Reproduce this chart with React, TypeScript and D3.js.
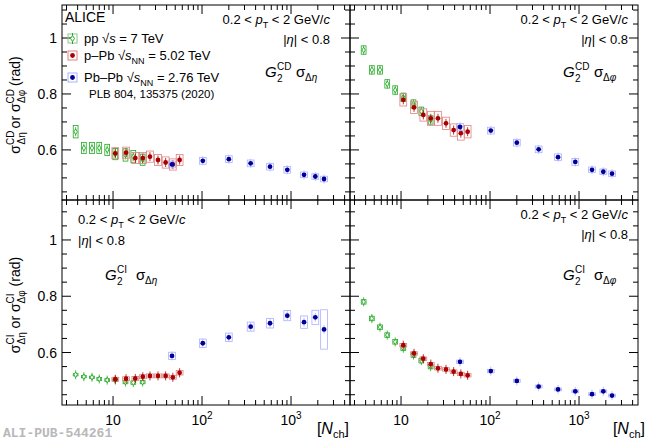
import React from "react";
import * as d3 from "d3";

const nPP = [3.8, 4.7, 5.8, 7.0, 8.6, 10.6, 13.8, 16.9, 21.5];
const nPPb = [10.6, 14, 17.8, 21.6, 26, 32, 39, 47, 56];
const nPbPb = [46, 102, 200, 352, 581, 908, 1400, 1875, 2350];

// top-left: CD sigma_deta
const cdEtaPP = [0.665, 0.607, 0.607, 0.607, 0.6, 0.585, 0.582, 0.576, 0.565];
const cdEtaPPb = [0.588, 0.59, 0.571, 0.571, 0.576, 0.564, 0.555, 0.548, 0.564];
const cdEtaPbPb = [0.548, 0.561, 0.567, 0.552, 0.54, 0.529, 0.511, 0.505, 0.496];
// top-right: CD sigma_dphi
const cdPhiPP = [0.957, 0.886, 0.886, 0.836, 0.814, 0.788, 0.764, 0.738, 0.707];
const cdPhiPPb = [0.779, 0.752, 0.725, 0.713, 0.713, 0.695, 0.671, 0.66, 0.665];
const cdPhiPbPb = [0.682, 0.669, 0.626, 0.602, 0.574, 0.557, 0.529, 0.522, 0.515];
// bottom-left: CI sigma_deta
const ciEtaPP = [0.521, 0.514, 0.512, 0.506, 0.502, 0.502, 0.495, 0.493, 0.495];
const ciEtaPPb = [0.505, 0.507, 0.508, 0.514, 0.517, 0.517, 0.517, 0.512, 0.528];
const ciEtaPbPb = [0.588, 0.633, 0.654, 0.692, 0.704, 0.731, 0.708, 0.725, 0.682];
// bottom-right: CI sigma_dphi
const ciPhiPP = [0.78, 0.721, 0.69, 0.662, 0.638, 0.615, 0.591, 0.571, 0.55];
const ciPhiPPb = [0.626, 0.597, 0.578, 0.559, 0.544, 0.54, 0.532, 0.524, 0.519];
const ciPhiPbPb = [0.567, 0.534, 0.499, 0.479, 0.469, 0.462, 0.452, 0.462, 0.447];

// systematic half-heights
const sysCdEta = { pp: [0.022, 0.02, 0.02, 0.02, 0.02, 0.02, 0.022, 0.022, 0.02], ppb: [0.02, 0.02, 0.02, 0.02, 0.02, 0.02, 0.02, 0.02, 0.02], pbpb: [0.012, 0.012, 0.012, 0.012, 0.012, 0.012, 0.01, 0.01, 0.01] };
const sysCdPhi = { pp: [0.015, 0.015, 0.015, 0.015, 0.015, 0.015, 0.015, 0.015, 0.015], ppb: [0.022, 0.022, 0.022, 0.025, 0.025, 0.022, 0.022, 0.025, 0.022], pbpb: [0.012, 0.012, 0.012, 0.012, 0.012, 0.012, 0.01, 0.01, 0.01] };
const sysCiEta = { pp: [0.004, 0.004, 0.004, 0.005, 0.005, 0.005, 0.006, 0.006, 0.006], ppb: [0.007, 0.007, 0.007, 0.007, 0.007, 0.007, 0.007, 0.007, 0.008], pbpb: [0.013, 0.015, 0.015, 0.016, 0.017, 0.018, 0.022, 0.025, 0.07] };
const sysCiPhi = { pp: [0.008, 0.008, 0.008, 0.008, 0.008, 0.008, 0.008, 0.008, 0.008], ppb: [0.006, 0.006, 0.006, 0.006, 0.006, 0.006, 0.006, 0.006, 0.006], pbpb: [0.006, 0.006, 0.005, 0.005, 0.005, 0.005, 0.005, 0.005, 0.005] };

const yTicks = [0.6, 0.8, 1.0];
const xTickLabels = ["10", "10", "10"];

const FONT = "Liberation Sans, Arial, sans-serif";
const GREEN = "#22aa22";
const RED = "#aa0000";
const REDBOX = "#e08080";
const BLUE = "#000099";
const BLUEBOX = "#aab0ff";

type P = { x0: number; x1: number; y0: number; y1: number; dom: [number, number] };

function Panel({ p, pp, ppb, pbpb, sys, showYLabels, showXLabels }: any) {
  const x = d3.scaleLog().domain([2.67, 4600]).range([p.x0, p.x1]);
  const y = d3.scaleLinear().domain(p.dom).range([p.y1, p.y0]);
  const minorX: number[] = [];
  for (let e = 0; e <= 3; e++) for (let m = 1; m <= 9; m++) { const v = m * Math.pow(10, e); if (v >= 2.67 && v <= 4600) minorX.push(v); }
  const minorY: number[] = [];
  for (let v = 0.45; v <= 1.15; v += 0.05) { const vv = Math.round(v * 100) / 100; if (vv >= p.dom[0] && vv <= p.dom[1]) minorY.push(vv); }
  const series = (ns: number[], vals: number[], s: number[], kind: string) =>
    ns.map((n, i) => {
      const cx = x(n), cy = y(vals[i]);
      const hw = kind === "pp" ? 2.4 : 3.4;
      const col = kind === "pp" ? GREEN : kind === "ppb" ? REDBOX : BLUEBOX;
      const stat = kind === "pp" ? GREEN : kind === "ppb" ? RED : BLUEBOX;
      return (
        <g key={kind + i}>
          <rect x={cx - hw} y={y(vals[i] + s[i])} width={hw * 2} height={y(vals[i] - s[i]) - y(vals[i] + s[i])} fill="none" stroke={col} strokeWidth={0.8} />
          <line x1={cx} x2={cx} y1={cy - 4.5} y2={cy + 4.5} stroke={stat} strokeWidth={0.8} />
          {kind === "pp" ? (
            <path d={`M${cx},${cy - 2.8}L${cx + 1.7},${cy}L${cx},${cy + 2.8}L${cx - 1.7},${cy}Z`} fill="white" stroke={GREEN} strokeWidth={0.9} />
          ) : (
            <circle cx={cx} cy={cy} r={2.4} fill={kind === "ppb" ? RED : BLUE} />
          )}
        </g>
      );
    });
  return (
    <g>
      {series(nPP, pp, sys.pp, "pp")}
      {series(nPPb, ppb, sys.ppb, "ppb")}
      {series(nPbPb, pbpb, sys.pbpb, "pbpb")}
      <rect x={p.x0} y={p.y0} width={p.x1 - p.x0} height={p.y1 - p.y0} fill="none" stroke="black" strokeWidth={1} />
      {minorX.map((v) => {
        const major = [10, 100, 1000].includes(v);
        const L = major ? 9 : 5;
        return (
          <g key={"mx" + v}>
            <line x1={x(v)} x2={x(v)} y1={p.y1} y2={p.y1 - L} stroke="black" />
            <line x1={x(v)} x2={x(v)} y1={p.y0} y2={p.y0 + L} stroke="black" />
          </g>
        );
      })}
      {minorY.map((v) => {
        const major = yTicks.some((t) => Math.abs(t - v) < 1e-6);
        const L = major ? 9 : 5;
        return (
          <g key={"my" + v}>
            <line x1={p.x0} x2={p.x0 + L} y1={y(v)} y2={y(v)} stroke="black" />
            <line x1={p.x1} x2={p.x1 - L} y1={y(v)} y2={y(v)} stroke="black" />
          </g>
        );
      })}
      {showYLabels && yTicks.map((t) => (
        <text key={"yl" + t} x={p.x0 - 5} y={y(t) + 5} textAnchor="end" fontSize={14}>{t === 1 ? "1" : t.toFixed(1)}</text>
      ))}
      {showXLabels && [10, 100, 1000].map((t, i) => (
        <text key={"xl" + t} x={x(t)} y={p.y1 + 20} textAnchor="middle" fontSize={14}>
          {xTickLabels[i]}{i > 0 && <tspan dy={-6} fontSize={10}>{i + 1}</tspan>}
        </text>
      ))}
    </g>
  );
}

function Label({ xr, y0 }: any) {
  return (
    <g fontSize={13}>
      <text x={xr} y={y0 + 17} textAnchor="end">0.2 &lt; <tspan fontStyle="italic">p</tspan><tspan fontSize={9} dy={4}>T</tspan><tspan dy={-4}> &lt; 2 GeV/</tspan><tspan fontStyle="italic">c</tspan></text>
      <text x={xr} y={y0 + 37} textAnchor="end">|<tspan fontStyle="italic">η</tspan>| &lt; 0.8</text>
    </g>
  );
}

function GLabel({ x0, y0, sup, sub }: any) {
  return (
    <g>
      <text x={x0} y={y0} fontSize={15} fontStyle="italic">G</text>
      <text x={x0 + 12} y={y0 - 7} fontSize={10}>{sup}</text>
      <text x={x0 + 12} y={y0 + 5} fontSize={10}>2</text>
      <text x={x0 + 31} y={y0} fontSize={15}>σ</text>
      <text x={x0 + 40} y={y0 + 4} fontSize={10}>Δ<tspan fontStyle="italic">{sub}</tspan></text>
    </g>
  );
}

export default function App() {
  const top: [number, number] = [0.421, 1.118];
  const bot: [number, number] = [0.4135, 1.142];
  const pTL: P = { x0: 62, x1: 350, y0: 5, y1: 200, dom: top };
  const pTR: P = { x0: 350, x1: 638, y0: 5, y1: 200, dom: top };
  const pBL: P = { x0: 62, x1: 350, y0: 200, y1: 405, dom: bot };
  const pBR: P = { x0: 350, x1: 638, y0: 200, y1: 405, dom: bot };
  return (
    <svg width={650} height={440} style={{ position: "absolute", left: 0, top: 0, background: "white" }} fontFamily={FONT}>
      <rect width={650} height={440} fill="white" />
      <Panel p={pTL} pp={cdEtaPP} ppb={cdEtaPPb} pbpb={cdEtaPbPb} sys={sysCdEta} showYLabels showXLabels={false} />
      <Panel p={pTR} pp={cdPhiPP} ppb={cdPhiPPb} pbpb={cdPhiPbPb} sys={sysCdPhi} showYLabels={false} showXLabels={false} />
      <Panel p={pBL} pp={ciEtaPP} ppb={ciEtaPPb} pbpb={ciEtaPbPb} sys={sysCiEta} showYLabels showXLabels />
      <Panel p={pBR} pp={ciPhiPP} ppb={ciPhiPPb} pbpb={ciPhiPbPb} sys={sysCiPhi} showYLabels={false} showXLabels />

      <Label xr={330} y0={7} />
      <Label xr={628} y0={7} />
      <text x={78} y={224} fontSize={13}>0.2 &lt; <tspan fontStyle="italic">p</tspan><tspan fontSize={9} dy={4}>T</tspan><tspan dy={-4}> &lt; 2 GeV/</tspan><tspan fontStyle="italic">c</tspan></text>
      <text x={78} y={245} fontSize={13}>|<tspan fontStyle="italic">η</tspan>| &lt; 0.8</text>
      <Label xr={628} y0={202} />

      <GLabel x0={265} y0={77} sup="CD" sub="η" />
      <GLabel x0={563} y0={77} sup="CD" sub="φ" />
      <GLabel x0={105} y0={280} sup="CI" sub="η" />
      <GLabel x0={563} y0={280} sup="CI" sub="φ" />

      {/* legend */}
      <text x={65} y={22} fontSize={14}>ALICE</text>
      <g fontSize={13}>
        <rect x={68} y={34} width={9} height={9} fill="none" stroke="#88cc88" />
        <line x1={72.5} x2={72.5} y1={33} y2={44} stroke={GREEN} />
        <path d="M72.5,35.5L74.5,38.5L72.5,41.5L70.5,38.5Z" fill="white" stroke={GREEN} />
        <text x={84} y={43}>pp √<tspan fontStyle="italic">s</tspan> = 7 TeV</text>
        <rect x={68} y={51} width={9} height={9} fill="none" stroke={REDBOX} />
        <circle cx={72.5} cy={55.5} r={2.4} fill={RED} />
        <text x={84} y={60}>p–Pb √<tspan fontStyle="italic">s</tspan><tspan fontSize={9} dy={4}>NN</tspan><tspan dy={-4}> = 5.02 TeV</tspan></text>
        <rect x={68} y={73} width={9} height={9} fill="none" stroke={BLUEBOX} />
        <circle cx={72.5} cy={77.5} r={2.4} fill={BLUE} />
        <text x={84} y={82}>Pb–Pb √<tspan fontStyle="italic">s</tspan><tspan fontSize={9} dy={4}>NN</tspan><tspan dy={-4}> = 2.76 TeV</tspan></text>
        <text x={89} y={98} fontSize={11.5}>PLB 804, 135375 (2020)</text>
      </g>

      {/* y titles */}
      <text transform="translate(20,105) rotate(-90)" textAnchor="middle" fontSize={14}>
        σ<tspan fontSize={10} dy={-6}>CD</tspan><tspan fontSize={10} dx={-14} dy={11}>Δη</tspan><tspan dy={-5}> or σ</tspan><tspan fontSize={10} dy={-6}>CD</tspan><tspan fontSize={10} dx={-14} dy={11}>Δφ</tspan><tspan dy={-5}> (rad)</tspan>
      </text>
      <text transform="translate(20,305) rotate(-90)" textAnchor="middle" fontSize={14}>
        σ<tspan fontSize={10} dy={-6}>CI</tspan><tspan fontSize={10} dx={-10} dy={11}>Δη</tspan><tspan dy={-5}> or σ</tspan><tspan fontSize={10} dy={-6}>CI</tspan><tspan fontSize={10} dx={-10} dy={11}>Δφ</tspan><tspan dy={-5}> (rad)</tspan>
      </text>

      {/* x titles */}
      <text x={349} y={434} textAnchor="end" fontSize={16}>[<tspan fontStyle="italic">N</tspan><tspan fontSize={11} dy={4}>ch</tspan><tspan dy={-4}>]</tspan></text>
      <text x={645} y={434} textAnchor="end" fontSize={16}>[<tspan fontStyle="italic">N</tspan><tspan fontSize={11} dy={4}>ch</tspan><tspan dy={-4}>]</tspan></text>

      <text x={3} y={437} fontSize={13} fontWeight="bold" fill="#b8b8b8" fontFamily="Liberation Mono, DejaVu Sans Mono, monospace">ALI-PUB-544261</text>
    </svg>
  );
}
